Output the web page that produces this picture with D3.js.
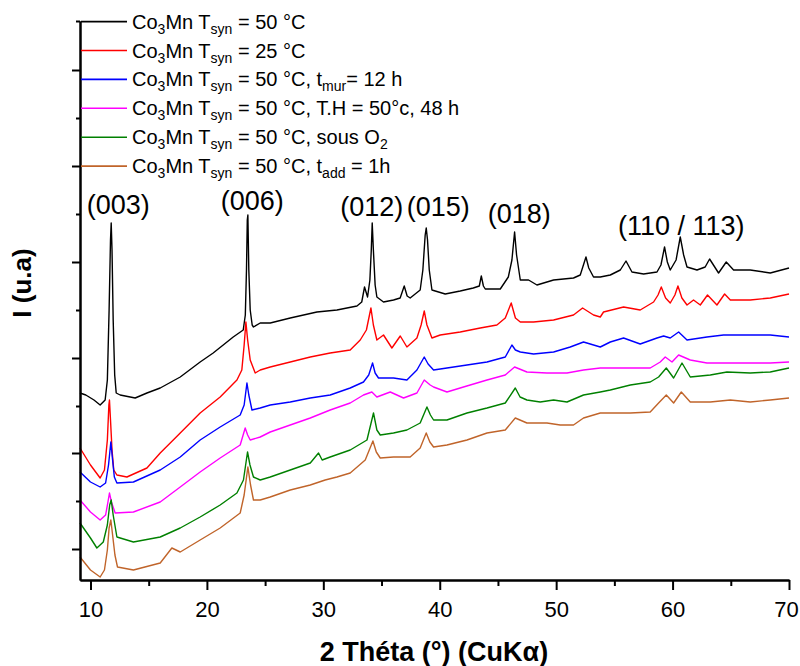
<!DOCTYPE html>
<html><head><meta charset="utf-8">
<script src="https://cdn.jsdelivr.net/npm/d3@7"></script>
<style>
body{margin:0;background:#fff}
svg{display:block}
text{font-family:Arial,"Liberation Sans",Helvetica,sans-serif;fill:#000}
</style>
</head><body>
<svg id="chart" width="800" height="666"></svg>
<script>
// ---------------- data (2θ in degrees, intensity in arbitrary units) ----------------
const xTicks = [10, 20, 30, 40, 50, 60, 70];
const xMinorTicks = [15, 25, 35, 45, 55, 65];
const yMajorTicks = [31, 127, 222, 318, 414, 510];
const yMinorTicks = [79, 174, 270, 366, 462, 559];

const seriesNames = [
  "Co_{3}Mn T_{syn} = 50 °C",
  "Co_{3}Mn T_{syn} = 25 °C",
  "Co_{3}Mn T_{syn} = 50 °C, t_{mur}= 12 h",
  "Co_{3}Mn T_{syn} = 50 °C, T.H = 50°c, 48 h",
  "Co_{3}Mn T_{syn} = 50 °C, sous O_{2}",
  "Co_{3}Mn T_{syn} = 50 °C, t_{add} = 1h"
];
const seriesColors = ["#000000", "#ff0000", "#0000ff", "#ff00ff", "#008000", "#c0642a"];

const peakLabels = ["(003)", "(006)", "(012)", "(015)", "(018)", "(110 / 113)"];
const peakLabelTheta = [12.38, 23.89, 34.16, 39.87, 46.83, 60.75];
const peakLabelI = [366, 370, 364, 364, 357, 345.5];

const tsyn50 = [[9.1,187],[9.6,185],[10.3,180],[10.83,175],[11.26,180],[11.45,200],[11.6,270],[11.72,340],[11.78,357],[11.85,330],[11.95,260],[12.08,205],[12.21,187],[12.55,185],[13.41,183],[13.84,182],[14.85,187],[15.99,192],[17.71,203],[19.42,218],[20.54,227],[22.26,243],[23.12,250],[23.3,265],[23.4,310],[23.47,360],[23.52,365],[23.6,310],[23.72,270],[23.89,255],[24.0,253],[24.58,257],[25.44,257],[27.16,262],[29.45,268],[31.17,270],[32.89,274],[33.3,278],[33.54,293],[33.8,283],[34.0,300],[34.12,330],[34.2,357],[34.3,330],[34.45,295],[34.6,283],[35.17,278],[36.03,280],[36.6,282],[36.95,294],[37.2,284],[37.46,282],[38.32,290],[38.55,310],[38.75,345],[38.84,352],[38.95,340],[39.1,310],[39.33,290],[40.47,286],[41.76,289],[42.88,292],[43.4,294],[43.57,304],[43.75,294],[43.91,291],[45.2,291],[45.89,303],[46.2,320],[46.43,348],[46.6,325],[46.92,300],[47.63,300],[48.35,295],[49.78,300],[51.49,302],[52.07,305],[52.56,323],[52.8,312],[53.21,303],[53.79,303],[54.65,305],[55.51,310],[56.0,319],[56.51,308],[57.51,306],[58.66,308],[59.0,315],[59.31,333],[59.55,318],[59.8,310],[60.3,320],[60.66,343],[60.95,325],[61.24,313],[62.1,310],[62.8,313],[63.18,321],[63.95,307],[64.61,318],[65.24,310],[66.67,310],[68.39,307],[70.0,312]];

const tsyn25 = [[9.1,132],[10.0,115],[10.83,102],[11.2,110],[11.45,140],[11.58,175],[11.63,180],[11.72,160],[11.85,130],[12.0,110],[12.27,105],[13.13,103],[14.85,112],[15.99,127],[17.71,147],[19.42,167],[21.14,183],[22.58,200],[23.0,210],[23.2,235],[23.35,258],[23.5,240],[23.72,220],[24.15,207],[24.58,210],[25.44,213],[27.16,218],[28.88,223],[30.59,227],[32.31,230],[33.17,240],[33.7,250],[34.09,272],[34.3,255],[34.6,240],[35.17,245],[35.89,232],[36.61,244],[37.18,233],[38.04,242],[38.4,255],[38.67,269],[38.9,255],[39.33,242],[40.04,245],[41.76,248],[43.48,252],[44.91,255],[45.63,262],[46.14,277],[46.5,262],[46.92,258],[48.06,258],[49.78,260],[51.49,265],[52.27,272],[53.21,265],[53.79,263],[54.07,268],[55.79,273],[57.22,270],[58.37,278],[58.75,285],[59.03,293],[59.4,282],[59.8,277],[60.2,285],[60.46,294],[60.8,282],[61.24,275],[61.8,280],[62.38,275],[63.0,285],[63.81,275],[64.47,286],[64.96,280],[66.67,280],[68.39,282],[70.0,286]];

const tmur12 = [[9.1,108],[10.0,98],[10.83,93],[11.3,97],[11.55,115],[11.75,138],[11.9,120],[12.05,103],[12.27,97],[13.69,98],[15.99,110],[17.71,123],[19.42,140],[21.14,153],[22.86,165],[23.2,175],[23.44,197],[23.6,185],[23.87,170],[24.58,172],[25.44,175],[27.16,178],[28.88,182],[30.59,185],[32.31,192],[33.45,198],[33.9,205],[34.23,217],[34.45,207],[34.74,202],[36.03,202],[37.18,200],[38.04,210],[38.67,223],[39.0,216],[39.47,210],[40.62,212],[42.34,215],[44.06,218],[45.63,223],[46.2,235],[46.5,230],[46.92,228],[48.06,226],[49.78,228],[51.21,233],[52.35,238],[53.79,233],[54.65,238],[55.79,242],[57.22,236],[58.66,242],[59.23,244],[59.8,242],[60.52,248],[61.24,240],[62.95,243],[64.38,245],[66.1,245],[68.39,245],[70.0,243]];

const th48 = [[9.1,80],[10.0,68],[10.83,60],[11.3,65],[11.5,78],[11.63,87],[11.8,78],[12.12,67],[13.69,68],[15.99,78],[17.71,93],[19.42,108],[21.14,122],[22.86,135],[23.29,152],[23.5,145],[23.72,140],[24.58,143],[25.44,148],[27.16,155],[28.88,162],[30.59,170],[32.31,177],[33.45,185],[34.17,188],[34.6,183],[35.75,188],[36.89,182],[38.04,187],[38.67,200],[39.18,195],[39.47,193],[40.62,188],[42.04,193],[44.06,200],[45.63,205],[46.43,213],[47.49,208],[49.21,207],[50.93,207],[52.35,210],[53.79,212],[54.65,212],[56.37,212],[58.08,212],[58.94,218],[59.37,223],[59.95,218],[60.52,225],[61.52,220],[62.95,217],[64.96,217],[66.67,217],[68.39,217],[70.0,218]];

const sousO2 = [[9.1,57],[10.0,42],[10.55,32],[11.1,38],[11.45,55],[11.65,75],[11.78,80],[11.95,65],[12.27,43],[13.69,38],[15.99,43],[17.71,52],[19.42,63],[21.14,75],[22.58,87],[23.14,100],[23.49,128],[23.7,115],[24.0,103],[24.58,100],[25.44,103],[27.16,110],[28.88,117],[29.59,127],[29.9,120],[30.59,123],[32.31,130],[33.75,140],[34.31,167],[34.6,150],[34.89,145],[36.03,147],[37.18,150],[38.32,157],[38.9,173],[39.2,165],[39.47,160],[40.62,160],[42.34,167],[44.06,172],[45.63,177],[46.49,192],[46.9,183],[47.49,180],[48.63,178],[49.78,180],[50.93,178],[52.35,185],[53.79,188],[54.65,190],[56.37,195],[58.08,198],[58.8,203],[59.46,212],[60.09,202],[60.81,217],[61.52,203],[63.24,205],[64.67,208],[66.67,207],[68.39,208],[70.0,212]];

const tadd1 = [[9.1,23],[10.0,10],[10.83,3],[11.2,10],[11.45,30],[11.6,52],[11.75,60],[11.9,45],[12.1,25],[12.32,13],[13.69,10],[15.99,17],[16.99,32],[17.71,28],[19.42,40],[21.14,52],[22.86,67],[23.2,85],[23.52,113],[23.75,95],[24.0,80],[24.58,80],[25.44,83],[27.16,90],[28.88,95],[30.16,100],[31.17,103],[32.31,107],[33.6,120],[34.26,139],[34.55,128],[34.89,122],[36.03,123],[37.46,123],[38.32,132],[38.84,147],[39.15,138],[39.47,133],[40.62,135],[42.34,140],[44.06,147],[45.63,150],[46.49,162],[47.49,157],[49.21,157],[50.35,155],[51.49,155],[52.35,162],[53.79,167],[54.65,167],[56.37,167],[58.08,168],[58.8,177],[59.46,185],[60.09,177],[60.75,188],[61.52,178],[63.24,178],[64.96,180],[66.67,178],[68.39,180],[70.0,182]];

const seriesData = [tsyn50, tsyn25, tmur12, th48, sousO2, tadd1];

// ---------------- layout ----------------
const svg = d3.select("#chart");
const x = d3.scaleLinear().domain([9.1, 70]).range([80, 789]);
const y = d3.scaleLinear().domain([0, 559]).range([580, 21]);

// curves
const line = d3.line().x(d => x(d[0])).y(d => y(d[1]));
svg.append("g").selectAll("path").data(seriesData).join("path")
  .attr("d", line)
  .attr("fill", "none")
  .attr("stroke", (d, i) => seriesColors[i])
  .attr("stroke-width", 1.4)
  .attr("stroke-linejoin", "round");

// axes
function styleAxis(g) {
  g.selectAll(".domain").attr("stroke", "#000").attr("stroke-width", 2);
  g.selectAll(".tick line").attr("stroke", "#000").attr("stroke-width", 2);
}
const gxMinor = svg.append("g").attr("transform", "translate(0,580)")
  .call(d3.axisBottom(x).tickValues(xMinorTicks).tickSize(6).tickSizeOuter(0).tickFormat(""));
styleAxis(gxMinor);
const gx = svg.append("g").attr("transform", "translate(0,580)")
  .call(d3.axisBottom(x).tickValues(xTicks).tickSize(10).tickSizeOuter(0).tickPadding(11).tickFormat(d3.format("d")));
styleAxis(gx);
gx.selectAll(".tick text").attr("font-size", 22).attr("font-family", "Arial, 'Liberation Sans', sans-serif").attr("fill", "#000")
  .attr("dx", d => d === xTicks[xTicks.length - 1] ? -3 : 0);

const gyMinor = svg.append("g").attr("transform", "translate(80,0)")
  .call(d3.axisLeft(y).tickValues(yMinorTicks).tickSize(4).tickSizeOuter(0).tickFormat(""));
styleAxis(gyMinor);
const gy = svg.append("g").attr("transform", "translate(80,0)")
  .call(d3.axisLeft(y).tickValues(yMajorTicks).tickSize(8).tickSizeOuter(0).tickFormat(""));
styleAxis(gy);

// axis titles
svg.append("text").attr("x", 434).attr("y", 661).attr("text-anchor", "middle")
  .attr("font-size", 27).attr("font-weight", "bold").text("2 Théta (°) (CuKα)");
svg.append("text").attr("transform", "translate(31,283) rotate(-90)").attr("text-anchor", "middle")
  .attr("font-size", 26).attr("font-weight", "bold").text("I (u.a)");

// peak labels
svg.append("g").selectAll("text").data(peakLabels).join("text")
  .attr("x", (d, i) => x(peakLabelTheta[i]))
  .attr("y", (d, i) => y(peakLabelI[i]))
  .attr("text-anchor", "middle")
  .attr("font-size", 27)
  .text(d => d);

// legend
function addRich(textSel, str) {
  const parts = str.split(/(_\{[^}]*\})/).filter(s => s.length);
  let sub = false;
  parts.forEach(p => {
    if (p.startsWith("_{")) {
      textSel.append("tspan").attr("font-size", 14).attr("dy", 5).text(p.slice(2, -1));
      sub = true;
    } else {
      const t = textSel.append("tspan").text(p);
      if (sub) { t.attr("dy", -5); sub = false; }
    }
  });
}
const leg = svg.append("g");
seriesNames.forEach((name, i) => {
  const ly = 21.6 + i * 28.9;
  leg.append("line").attr("x1", 81).attr("x2", 127).attr("y1", ly).attr("y2", ly)
    .attr("stroke", seriesColors[i]).attr("stroke-width", 1.6);
  const t = leg.append("text").attr("x", 132).attr("y", ly + 7).attr("font-size", 20).style("white-space", "pre");
  addRich(t, name);
});
</script>
</body></html>
